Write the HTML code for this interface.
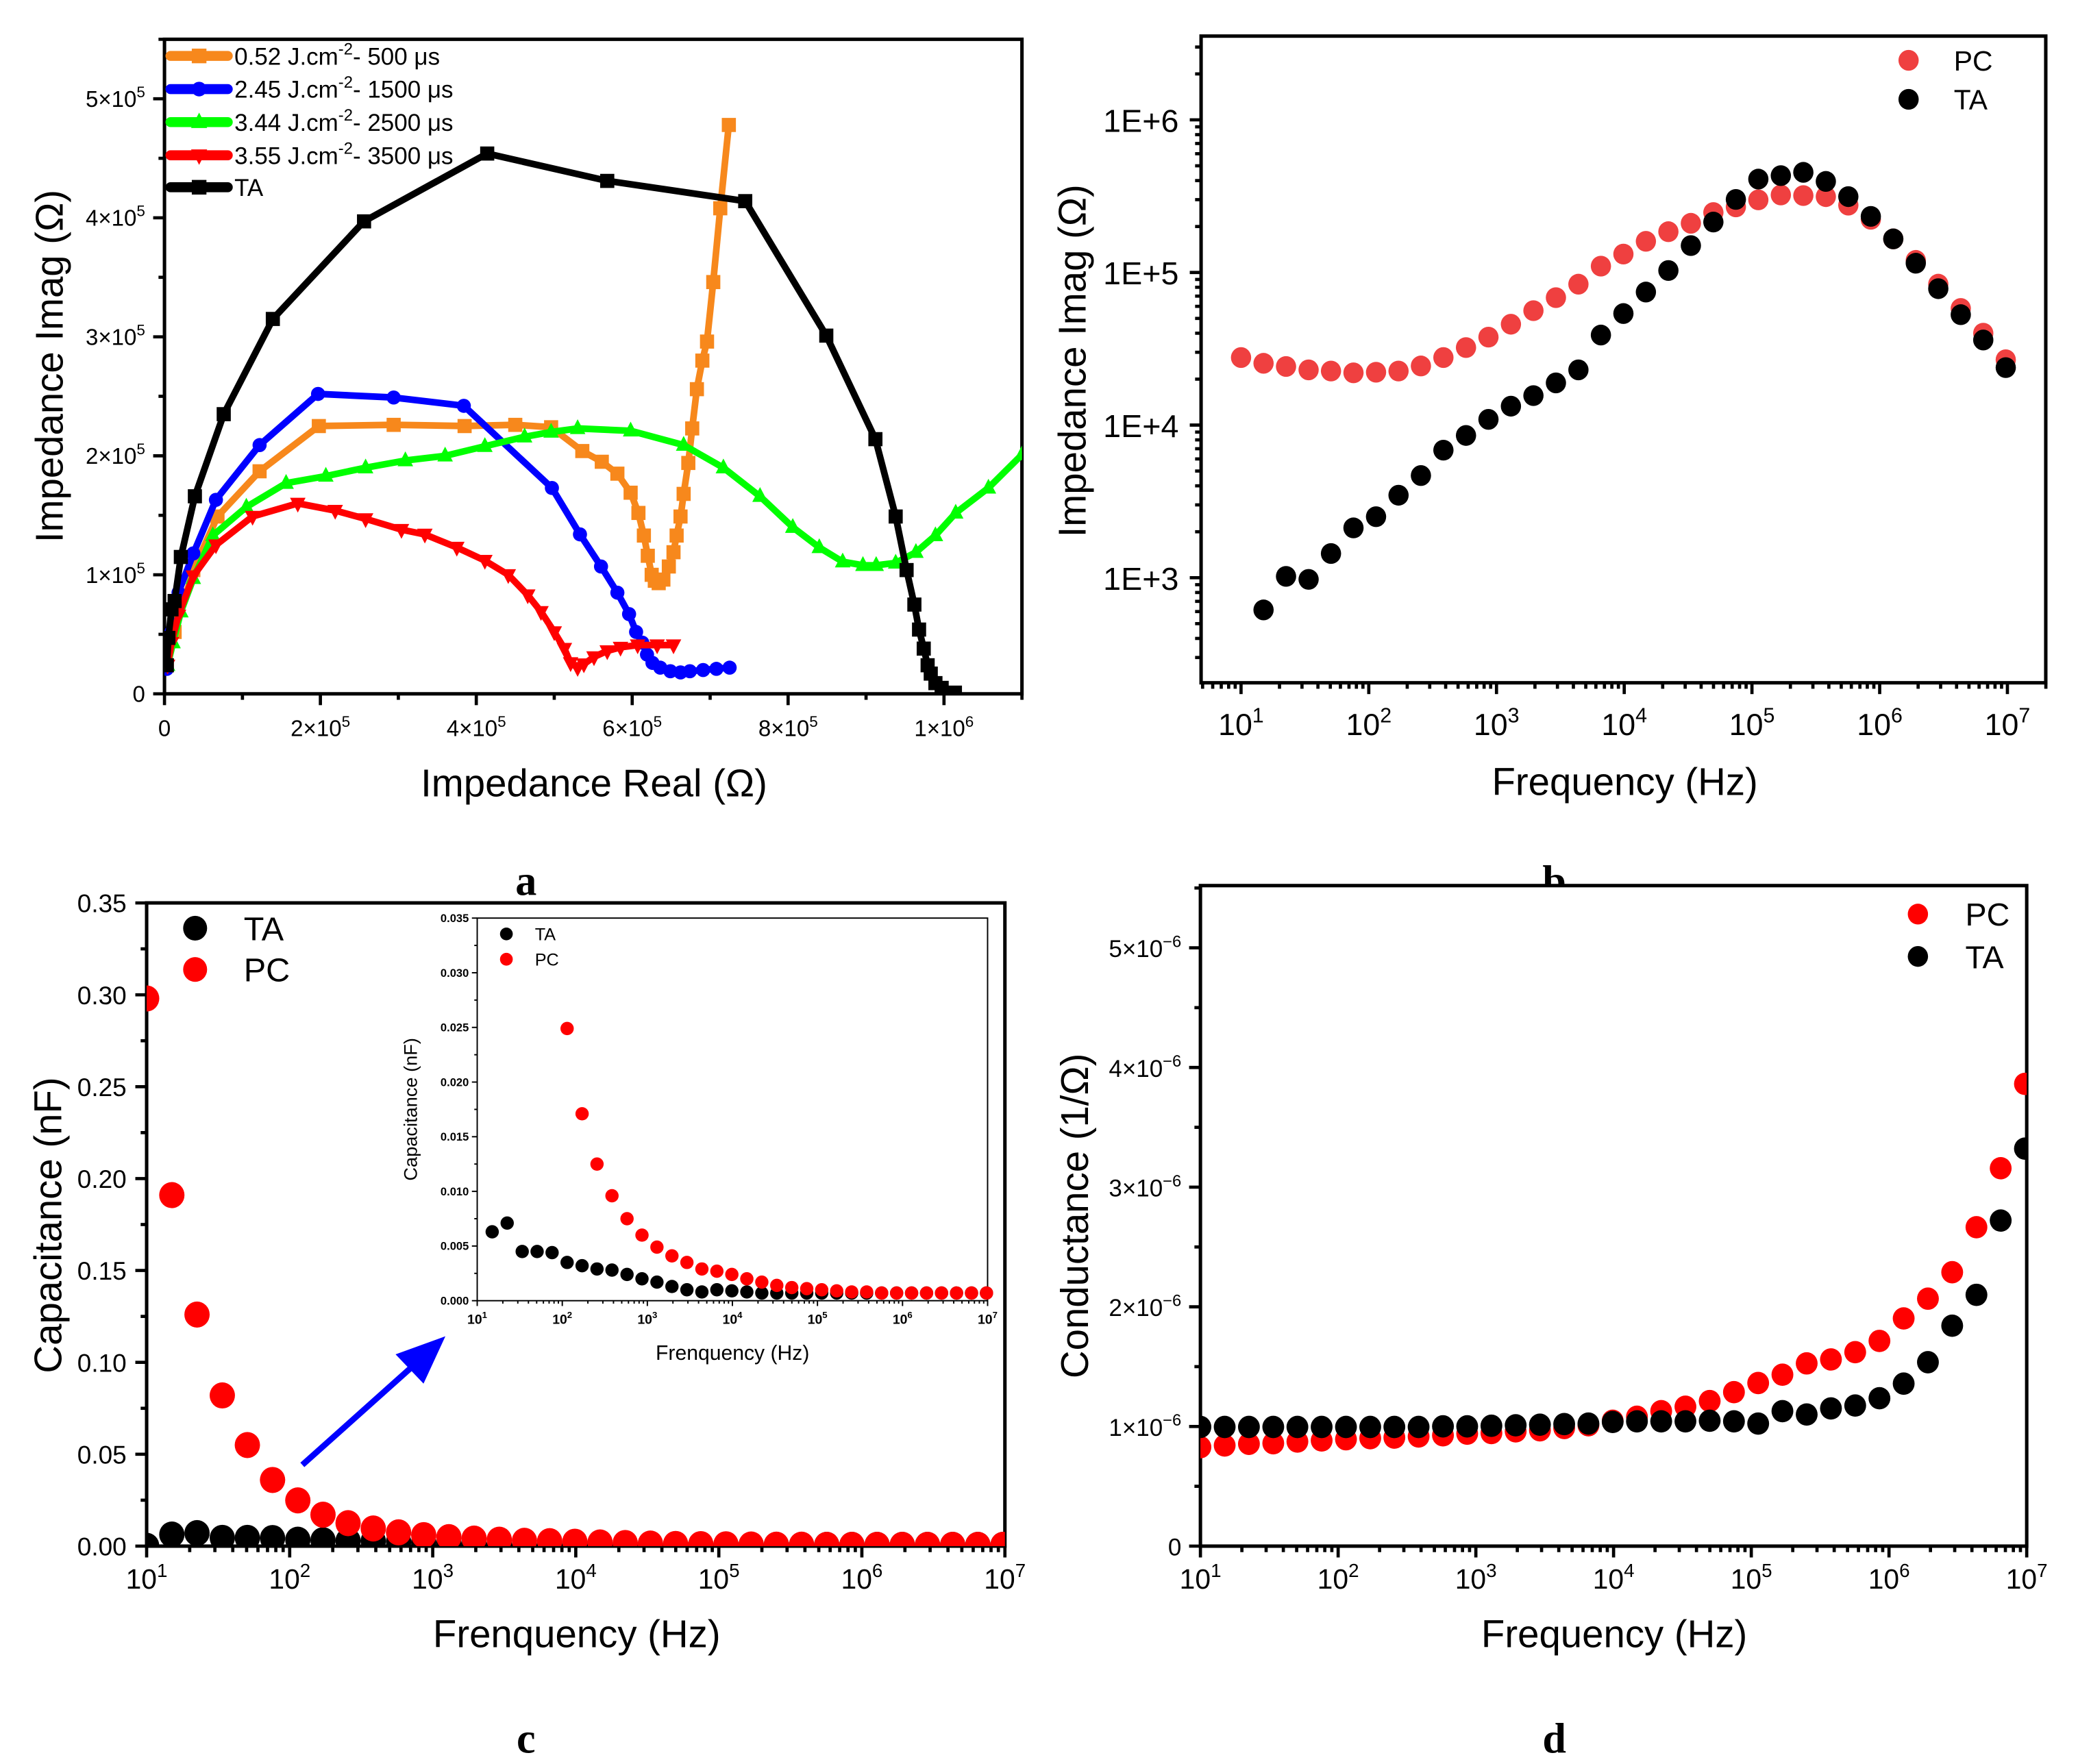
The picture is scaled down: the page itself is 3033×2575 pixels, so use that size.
<!DOCTYPE html>
<html><head><meta charset="utf-8"><title>Impedance figure</title>
<style>html,body{margin:0;padding:0;background:#fff}svg{display:block}text{font-family:"Liberation Sans",Arial,sans-serif}</style>
</head><body>
<svg id="fig" xmlns="http://www.w3.org/2000/svg" width="3033" height="2575" viewBox="0 0 1560.2 1324.6" preserveAspectRatio="none"></svg>
<script>
// ---------- DATA ----------
// panel a (Nyquist) values in units of 1e5 ohm
const aOrangeRe=[0.03,0.13,0.37,0.68,1.22,1.98,2.94,3.85,4.50,4.96,5.36,5.61,5.81,5.98,6.08,6.15,6.20,6.25,6.29,6.34,6.40,6.47,6.53,6.57,6.62,6.66,6.72,6.77,6.83,6.90,6.96,7.04,7.13,7.24];
const aOrangeIm=[0.24,0.52,1.04,1.49,1.87,2.25,2.26,2.25,2.26,2.24,2.04,1.95,1.85,1.69,1.52,1.33,1.16,1.00,0.95,0.93,0.96,1.07,1.19,1.33,1.49,1.68,1.94,2.23,2.56,2.80,2.96,3.46,4.08,4.78];
const aBlueRe=[0.03,0.09,0.18,0.37,0.66,1.22,1.97,2.94,3.84,4.97,5.33,5.60,5.81,5.96,6.05,6.13,6.19,6.26,6.36,6.49,6.62,6.74,6.91,7.08,7.25];
const aBlueIm=[0.21,0.52,0.85,1.18,1.63,2.09,2.52,2.49,2.42,1.73,1.34,1.07,0.85,0.67,0.52,0.43,0.33,0.26,0.22,0.19,0.18,0.19,0.20,0.21,0.22];
const aGreenRe=[0.04,0.11,0.21,0.37,0.62,1.05,1.56,2.07,2.58,3.09,3.60,4.11,4.62,4.96,5.30,5.98,6.66,7.17,7.64,8.06,8.40,8.70,8.96,9.13,9.38,9.64,9.89,10.15,10.57,11.0];
const aGreenIm=[0.24,0.43,0.69,0.97,1.33,1.57,1.77,1.83,1.90,1.96,2.00,2.08,2.16,2.20,2.23,2.21,2.09,1.90,1.66,1.40,1.23,1.11,1.08,1.08,1.10,1.19,1.33,1.52,1.73,2.01];
const aRedRe=[0.04,0.09,0.18,0.37,0.66,1.13,1.71,2.19,2.58,3.04,3.34,3.75,4.11,4.41,4.66,4.83,5.00,5.13,5.21,5.30,5.38,5.51,5.68,5.85,6.07,6.32,6.53];
const aRedIm=[0.24,0.43,0.66,0.99,1.25,1.49,1.60,1.54,1.47,1.38,1.34,1.23,1.12,1.00,0.83,0.69,0.52,0.38,0.26,0.22,0.25,0.31,0.36,0.39,0.41,0.41,0.41];
const aTARe=[0.03,0.05,0.09,0.13,0.21,0.39,0.76,1.39,2.56,4.14,5.68,7.45,8.49,9.12,9.38,9.52,9.62,9.68,9.74,9.79,9.83,9.89,9.97,10.14];
const aTAIm=[0.24,0.47,0.71,0.78,1.15,1.66,2.35,3.15,3.97,4.54,4.31,4.14,3.01,2.14,1.49,1.04,0.75,0.54,0.38,0.24,0.17,0.09,0.05,0.01];
const aLegendLabels=["0.52 J.cm|-2|- 500 μs","2.45 J.cm|-2|- 1500 μs","3.44 J.cm|-2|- 2500 μs","3.55 J.cm|-2|- 3500 μs","TA"];
const aXTicks=[0,2,4,6,8,10];
const aYTicks=[0,1,2,3,4,5];
// frequencies (Hz)
const freq=[10,15,22.5,33.8,50.6,75.9,114,171,256,384,577,865,1297,1946,2919,4379,6568,9853,14780,22170,33250,49880,74820,112200,168300,252500,378800,568200,852300,1278000,1917000,2876000,4314000,6471000,9706000];
// panel b (imag impedance, ohm)
const bPC=[27700,25400,24200,23000,22600,22000,22200,22600,24400,27700,32200,37700,45800,56200,68400,83800,110000,132000,160000,185000,210000,247000,269000,299000,322000,319000,314000,276000,223000,166000,120000,83800,58100,40000,26800];
const bTA=[615,1020,975,1440,2120,2510,3470,4670,6850,8550,10900,13300,15600,18900,23000,38900,53800,74400,103000,150000,214000,301000,409000,431000,453000,395000,314000,233000,166000,115000,78300,52900,36100,23800];
const bYTickLabels=["1E+3","1E+4","1E+5","1E+6"];
// panel c (capacitance nF)
const cPC=[0.298,0.191,0.126,0.082,0.055,0.036,0.0249,0.0171,0.0125,0.0096,0.0075,0.0060,0.0049,0.0041,0.0035,0.0029,0.0027,0.0024,0.0020,0.0017,0.0014,0.0012,0.0011,0.0010,0.0009,0.0008,0.0008,0.0007,0.0007,0.0007,0.0007,0.0007,0.0007,0.0007,0.0007];
const cTA=[0.0002,0.0063,0.0071,0.0045,0.0045,0.0044,0.0035,0.0032,0.0029,0.0028,0.0024,0.0020,0.0017,0.0013,0.0010,0.0008,0.0010,0.0009,0.0008,0.0007,0.0007,0.0007,0.0007,0.0007,0.0007,0.0007,0.0007,0.0007,0.0007,0.0007,0.0007,0.0007,0.0007,0.0007,0.0007];
const cYTickLabels=["0.00","0.05","0.10","0.15","0.20","0.25","0.30","0.35"];
const insetYTickLabels=["0.000","0.005","0.010","0.015","0.020","0.025","0.030","0.035"];
// panel d (conductance, 1e-6 S)
const dPC=[0.827,0.841,0.855,0.860,0.874,0.883,0.893,0.902,0.907,0.916,0.926,0.940,0.945,0.959,0.968,0.987,1.010,1.048,1.081,1.128,1.165,1.212,1.287,1.363,1.433,1.527,1.560,1.621,1.715,1.903,2.068,2.289,2.665,3.158,3.863];
const dTA=[0.996,0.996,0.996,0.996,0.996,0.996,0.996,0.996,0.996,0.996,1.001,1.001,1.006,1.010,1.015,1.020,1.024,1.038,1.043,1.043,1.043,1.048,1.043,1.024,1.128,1.100,1.151,1.175,1.236,1.358,1.537,1.842,2.100,2.721,3.322];
const dYTicks=[0,1,2,3,4,5];

// ---------- helpers ----------
const NS="http://www.w3.org/2000/svg";
const svg=document.getElementById('fig');
const SERIF='font-family:"Liberation Serif",serif;font-weight:bold';
function mk(parent,tag,attrs){const e=document.createElementNS(NS,tag);for(const k in attrs)e.setAttribute(k,attrs[k]);parent.appendChild(e);return e;}
function grp(name){const g=mk(svg,'g',{});


return g;}
function lin(v,d0,d1,p0,p1){return p0+(v-d0)/(d1-d0)*(p1-p0);}
function logS(v,d0,d1,p0,p1){return p0+(Math.log10(v)-d0)/(d1-d0)*(p1-p0);}
function txt(parent,x,y,s,size,anchor,extra){const t=mk(parent,'text',Object.assign({x:x,y:y,'font-size':size,'text-anchor':anchor||'middle',fill:'#000'},extra||{}));
const parts=s.split('|');t.appendChild(document.createTextNode(parts[0]));
if(parts.length>1){const sp=mk(t,'tspan',{dy:-size*0.42,'font-size':size*0.68});sp.textContent=parts[1];
if(parts.length>2){const r=mk(t,'tspan',{dy:size*0.42});r.textContent=parts[2];}}
return t;}
function frame(g,x0,y0,x1,y1,w){const r=mk(g,'rect',{x:x0,y:y1,width:x1-x0,height:y0-y1,fill:'#fff',stroke:'#000','stroke-width':w});


return r;}
function tick(g,x1,y1,x2,y2,w){mk(g,'line',{x1:x1,y1:y1,x2:x2,y2:y2,stroke:'#000','stroke-width':w});}

// ---------- PANEL A ----------
(function(){
const g=grp('panel-a-nyquist');
const X0=123.5,X1=767.3,Y0=521,Y1=29.5;
const sx=v=>lin(v,0,11,X0,X1), sy=v=>lin(v,0,5.5,Y0,Y1);
frame(g,X0,Y0,X1,Y1,2.6);
for(let v=0;v<=11;v++){tick(g,sx(v),Y0,sx(v),Y0+(v%2==0?8.5:4.5),2.4);}
for(let v=0;v<=5.5;v+=0.5){tick(g,X0,sy(v),X0-(Number.isInteger(v)?8.5:4.5),sy(v),2.4);}
aXTicks.forEach(v=>{const s=v==0?'0':(v==10?'1×10|6':v+'×10|5');
const t=txt(g,sx(v),552.8,s,17);

});
aYTicks.forEach(v=>{const s=v==0?'0':v+'×10|5';
const t=txt(g,109,sy(v)+6,s,17,'end');

});
const xt=txt(g,446,598,'Impedance Real (Ω)',29);


const yt=txt(g,0,0,'Impedance Imag (Ω)',29,'middle',{transform:'translate(47,275) rotate(-90)'});


const clip=mk(g,'clipPath',{id:'clipA'});mk(clip,'rect',{x:X0,y:Y1,width:X1-X0,height:Y0-Y1});
const series=[[aOrangeRe,aOrangeIm,'#f7881c','sq'],[aBlueRe,aBlueIm,'#0000ff','ci'],[aGreenRe,aGreenIm,'#00ff00','up'],[aRedRe,aRedIm,'#ff0000','dn'],[aTARe,aTAIm,'#000000','sq']];
function marker(p,x,y,c,type,s){let m;
if(type=='sq')m=mk(p,'rect',{x:x-s,y:y-s,width:2*s,height:2*s,fill:c});
else if(type=='ci')m=mk(p,'circle',{cx:x,cy:y,r:s,fill:c});
else if(type=='up')m=mk(p,'polygon',{points:`${x},${y-s*1.3} ${x-s*1.1},${y+s*0.8} ${x+s*1.1},${y+s*0.8}`,fill:c});
else m=mk(p,'polygon',{points:`${x},${y+s*1.3} ${x-s*1.1},${y-s*0.8} ${x+s*1.1},${y-s*0.8}`,fill:c});
return m;}
const names=['series-0-52','series-2-45','series-3-44','series-3-55','series-ta'];
series.forEach((s,k)=>{const sg=mk(g,'g',{'clip-path':'url(#clipA)'});


const pts=s[0].map((v,i)=>sx(v).toFixed(1)+','+sy(s[1][i]).toFixed(1)).join(' ');
mk(sg,'polyline',{points:pts,fill:'none',stroke:s[2],'stroke-width':5,'stroke-linejoin':'round','stroke-linecap':'round'});
s[0].forEach((v,i)=>{const m=marker(sg,sx(v),sy(s[1][i]),s[2],s[3],5.3);

});});
const ly=[42,66.9,91.7,116.6,140.6];
aLegendLabels.forEach((lab,k)=>{const lg=mk(g,'g',{});


mk(lg,'line',{x1:128,y1:ly[k],x2:171,y2:ly[k],stroke:series[k][2],'stroke-width':7.5,'stroke-linecap':'round'});
marker(lg,149.5,ly[k],series[k][2],series[k][3],5.5);
txt(lg,176,ly[k]+6.5,lab,18,'start');});
const L=txt(g,395,672,'a',32,'middle',{style:SERIF});


})();

// ---------- PANEL B ----------
(function(){
const g=grp('panel-b-imag-vs-frequency');
const X0=901.8,X1=1536,Y0=512.7,Y1=27.1;
const fx0=1,fx1=7,px0=931.8,px1=1507.2;
const sx=v=>logS(v,fx0,fx1,px0,px1);
const sy=v=>logS(v,3,6,433.8,90);
frame(g,X0,Y0,X1,Y1,2.6);
for(let d=0;d<=7;d++)for(let m=1;m<10;m++){const v=m*Math.pow(10,d);const x=sx(v);if(x<X0-0.5||x>X1+0.5)continue;tick(g,x,Y0,x,Y0+(m==1?8.5:4.5),2.4);}
for(let d=2;d<=6;d++)for(let m=1;m<10;m++){const v=m*Math.pow(10,d);const y=sy(v);if(y>Y0+0.5||y<Y1-0.5)continue;tick(g,X0,y,X0-(m==1?8.5:4.5),y,2.4);}
for(let d=1;d<=7;d++){const t=txt(g,sx(Math.pow(10,d)),552,'10|'+d,23);

}
bYTickLabels.forEach((s,k)=>{const t=txt(g,885,sy(Math.pow(10,k+3))+9,s,24,'end');

});
const xt=txt(g,1220,597,'Frequency (Hz)',29);


const yt=txt(g,0,0,'Impedance Imag (Ω)',29,'middle',{transform:'translate(815,271) rotate(-90)'});


const pg=mk(g,'g',{});


bPC.forEach((v,i)=>{const c=mk(pg,'ellipse',{cx:sx(freq[i]),cy:sy(v),rx:7.6,ry:7.8,fill:'#ef4040'});

});
const tg=mk(g,'g',{});


bTA.forEach((v,i)=>{const c=mk(tg,'ellipse',{cx:sx(freq[i+1]),cy:sy(v),rx:7.6,ry:7.8,fill:'#000'});

});
const l1=mk(g,'g',{});


mk(l1,'ellipse',{cx:1433,cy:45.3,rx:7.6,ry:7.8,fill:'#ef4040'});txt(l1,1467,53,'PC',21,'start');
const l2=mk(g,'g',{});


mk(l2,'ellipse',{cx:1433,cy:74.6,rx:7.6,ry:7.8,fill:'#000'});txt(l2,1467,82,'TA',21,'start');
const L=txt(g,1167,672,'b',32,'middle',{style:SERIF});


})();

// ---------- PANEL C ----------
(function(){
const g=grp('panel-c-capacitance');
const X0=110.1,X1=754.5,Y0=1161,Y1=678;
const sx=v=>logS(v,1,7,X0,X1), sy=v=>lin(v,0,0.35,Y0,Y1);
frame(g,X0,Y0,X1,Y1,2.6);
for(let d=1;d<=7;d++)for(let m=1;m<10;m++){const v=m*Math.pow(10,d);if(v>1e7*1.001)continue;const x=sx(v);tick(g,x,Y0,x,Y0+(m==1?8.5:4.5),2.4);}
for(let k=0;k<=14;k++){const y=sy(k*0.025);tick(g,X0,y,X0-(k%2==0?8.5:4.5),y,2.4);}
for(let d=1;d<=7;d++){const t=txt(g,sx(Math.pow(10,d)),1193,'10|'+d,21);

}
cYTickLabels.forEach((s,k)=>{const t=txt(g,95,sy(k*0.05)+7,s,19,'end');

});
const xt=txt(g,433,1237,'Frenquency (Hz)',29);


const yt=txt(g,0,0,'Capacitance (nF)',29,'middle',{transform:'translate(46,920) rotate(-90)'});


const clip=mk(g,'clipPath',{id:'clipC'});mk(clip,'rect',{x:X0,y:Y1,width:X1-X0,height:Y0-Y1});
const tg=mk(g,'g',{'clip-path':'url(#clipC)'});


cTA.forEach((v,i)=>{const c=mk(tg,'ellipse',{cx:sx(freq[i]),cy:sy(v),rx:9.5,ry:9.8,fill:'#000'});

});
const pg=mk(g,'g',{'clip-path':'url(#clipC)'});


cPC.forEach((v,i)=>{const c=mk(pg,'ellipse',{cx:sx(freq[i]),cy:sy(v),rx:9.5,ry:9.8,fill:'#ff0000'});

});
const l1=mk(g,'g',{});


mk(l1,'ellipse',{cx:146.5,cy:697,rx:9,ry:9.3,fill:'#000'});txt(l1,183,706,'TA',25,'start');
const l2=mk(g,'g',{});


mk(l2,'ellipse',{cx:146.5,cy:728,rx:9,ry:9.3,fill:'#ff0000'});txt(l2,183,737,'PC',25,'start');
// arrow
const ar=mk(g,'g',{});


mk(ar,'line',{x1:227,y1:1100,x2:312,y2:1024,stroke:'#0000ff','stroke-width':4.5});
mk(ar,'polygon',{points:'334.4,1003.4 297,1017 318,1039',fill:'#0000ff'});
// inset
const ig=mk(g,'g',{});


const IX0=358.3,IX1=741.5,IY0=976.7,IY1=689.4;
const ix=v=>logS(v,1,7,IX0,IX1), iy=v=>lin(v,0,0.035,IY0,IY1);
frame(ig,IX0,IY0,IX1,IY1,1);
for(let d=1;d<=7;d++)for(let m=1;m<10;m++){const v=m*Math.pow(10,d);if(v>1e7*1.001)continue;const x=ix(v);tick(ig,x,IY0,x,IY0+(m==1?4:2.2),1);}
for(let k=0;k<=14;k++){const y=iy(k*0.0025);tick(ig,IX0,y,IX0-(k%2==0?4:2.2),y,1);}
for(let d=1;d<=7;d++){const t=txt(ig,ix(Math.pow(10,d)),994,'10|'+d,10,'middle',{'font-weight':'bold'});

}
insetYTickLabels.forEach((s,k)=>{const t=txt(ig,352,iy(k*0.005)+3,s,8.5,'end',{'font-weight':'bold'});

});
const ixt=txt(ig,550,1021,'Frenquency (Hz)',15.5);


const iyt=txt(ig,0,0,'Capacitance (nF)',14,'middle',{transform:'translate(313,833) rotate(-90)'});


const iclip=mk(ig,'clipPath',{id:'clipI'});mk(iclip,'rect',{x:IX0,y:IY1,width:IX1-IX0+6,height:IY0-IY1});
const itg=mk(ig,'g',{'clip-path':'url(#clipI)'});


cTA.forEach((v,i)=>{if(i==0)return;const c=mk(itg,'circle',{cx:ix(freq[i]),cy:iy(v),r:5,fill:'#000'});

});
const ipg=mk(ig,'g',{'clip-path':'url(#clipI)'});


cPC.forEach((v,i)=>{if(v>0.035)return;const c=mk(ipg,'circle',{cx:ix(freq[i]),cy:iy(v),r:5,fill:'#ff0000'});

});
const il1=mk(ig,'g',{});


mk(il1,'circle',{cx:380.2,cy:701.3,r:4.8,fill:'#000'});txt(il1,401.6,706,'TA',13,'start');
const il2=mk(ig,'g',{});


mk(il2,'circle',{cx:380.2,cy:720.3,r:4.8,fill:'#ff0000'});txt(il2,401.6,725,'PC',13,'start');
const L=txt(g,395,1316,'c',32,'middle',{style:SERIF});


})();

// ---------- PANEL D ----------
(function(){
const g=grp('panel-d-conductance');
const X0=901.3,X1=1521.7,Y0=1161,Y1=665;
const sx=v=>logS(v,1,7,X0,X1), sy=v=>lin(v,0,5.52,Y0,Y1);
frame(g,X0,Y0,X1,Y1,2.6);
for(let d=1;d<=7;d++)for(let m=1;m<10;m++){const v=m*Math.pow(10,d);if(v>1e7*1.001)continue;const x=sx(v);tick(g,x,Y0,x,Y0+(m==1?8.5:4.5),2.4);}
for(let k=0;k<=11;k++){const y=sy(k*0.5);tick(g,X0,y,X0-(k%2==0?8.5:4.5),y,2.4);}
for(let d=1;d<=7;d++){const t=txt(g,sx(Math.pow(10,d)),1193,'10|'+d,21);

}
dYTicks.forEach(v=>{const s=v==0?'0':v+'×10|−6';
const t=txt(g,887,sy(v)+7,s,18,'end');

});
const xt=txt(g,1212,1237,'Frequency (Hz)',29);


const yt=txt(g,0,0,'Conductance (1/Ω)',29,'middle',{transform:'translate(817,913) rotate(-90)'});


const clip=mk(g,'clipPath',{id:'clipD'});mk(clip,'rect',{x:X0,y:Y1,width:X1-X0,height:Y0-Y1});
const pg=mk(g,'g',{'clip-path':'url(#clipD)'});


dPC.forEach((v,i)=>{const c=mk(pg,'ellipse',{cx:sx(freq[i]),cy:sy(v),rx:8.2,ry:8.4,fill:'#ff0000'});

});
const tg=mk(g,'g',{'clip-path':'url(#clipD)'});


dTA.forEach((v,i)=>{const c=mk(tg,'ellipse',{cx:sx(freq[i]),cy:sy(v),rx:8.2,ry:8.4,fill:'#000'});

});
const l1=mk(g,'g',{});


mk(l1,'ellipse',{cx:1440,cy:686.4,rx:7.6,ry:7.8,fill:'#ff0000'});txt(l1,1475.6,695,'PC',24,'start');
const l2=mk(g,'g',{});


mk(l2,'ellipse',{cx:1440,cy:718.2,rx:7.6,ry:7.8,fill:'#000'});txt(l2,1475.6,727,'TA',24,'start');
const L=txt(g,1167,1316,'d',32,'middle',{style:SERIF});


})();
</script>
</body></html>
